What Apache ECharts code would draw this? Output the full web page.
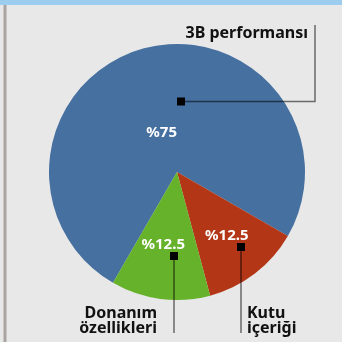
<!DOCTYPE html>
<html>
<head>
<meta charset="utf-8">
<script src="https://cdn.jsdelivr.net/npm/echarts@6/dist/echarts.min.js"></script>
<style>
  html, body { margin: 0; padding: 0; background: #e8e8e8; }
  #chart { width: 342px; height: 342px; }
</style>
</head>
<body>
<div id="chart"></div>
<script>
// Share of each factor
const categories = ['3B performansı', 'Kutu içeriği', 'Donanım özellikleri'];
const shares = [75, 12.5, 12.5];
const sliceColors = ['#46709f', '#b33617', '#66b22a'];
// Outer captions (line-broken as printed)
const captions = ['3B performansı', 'Kutu\niçeriği', 'Donanım\nözellikleri'];

const CX = 177, CY = 172, R = 128;
const FONT = '"Noto Sans", "Open Sans", sans-serif';

// Nudges for the in-slice percentage labels
const pctShift = [[2, 25], [9, 11], [-5, 6]];

const chart = echarts.init(document.getElementById('chart'), null, { renderer: 'canvas' });

// Leader-line helpers (pie centre relative)
function marker(x, y) {
  return { type: 'rect', shape: { x: x - 4, y: y - 4, width: 8, height: 8 },
           style: { fill: '#000' }, z: 20 };
}
function leader(points) {
  return { type: 'polyline', shape: { points: points },
           style: { stroke: 'rgba(0,0,0,0.55)', lineWidth: 1.5, fill: null }, z: 19 };
}
function caption(text, x, y, align) {
  return { type: 'text', x: x, y: y, z: 20,
           style: { text: text, fill: '#111', font: 'bold 16px ' + FONT,
                    align: align, verticalAlign: 'top', lineHeight: 15.5 } };
}

chart.setOption({
  backgroundColor: '#e8e8e8',
  animation: false,
  graphic: [
    { type: 'rect', shape: { x: 0, y: 0, width: 342, height: 5 }, style: { fill: '#9ccdee' } },
    { type: 'rect', shape: { x: 3.5, y: 5, width: 3, height: 337 }, style: { fill: '#a9a3a1' } },
    leader([[CX + 4, CY - 70.5], [CX + 138, CY - 70.5], [CX + 138, 25]]),
    marker(CX + 4, CY - 70.5),
    caption(captions[0], 308, 26, 'right'),
    leader([[CX + 64, CY + 75], [CX + 64, 333]]),
    marker(CX + 64, CY + 75),
    caption(captions[1], 247, 305.5, 'left'),
    leader([[CX - 3, CY + 84], [CX - 3, 333]]),
    marker(CX - 3, CY + 84),
    caption(captions[2], 157, 305.5, 'right')
  ],
  series: [{
    type: 'pie',
    center: [CX, CY],
    radius: [0, R],
    startAngle: 240,
    clockwise: true,
    silent: true,
    emphasis: { disabled: true },
    itemStyle: { borderWidth: 0 },
    label: {
      show: true,
      position: 'inside',
      color: '#fff',
      fontWeight: 'bold',
      fontSize: 15,
      fontFamily: FONT,
      formatter: p => '%' + p.value
    },
    labelLine: { show: false },
    labelLayout: p => ({ dx: pctShift[p.dataIndex][0], dy: pctShift[p.dataIndex][1] }),
    data: categories.map((c, i) => ({ name: c, value: shares[i], itemStyle: { color: sliceColors[i] } }))
  }]
});
</script>
</body>
</html>
